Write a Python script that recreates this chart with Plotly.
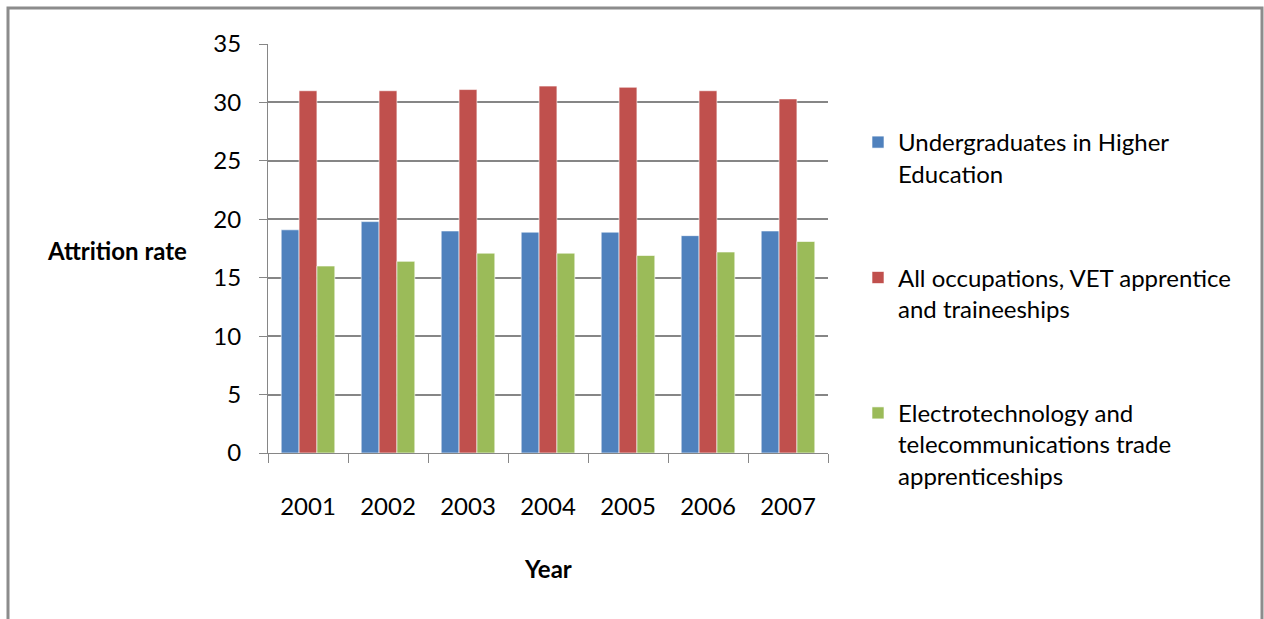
import plotly.graph_objects as go

years = ["2001", "2002", "2003", "2004", "2005", "2006", "2007"]
undergrad = [19.1, 19.8, 19.0, 18.9, 18.9, 18.6, 19.0]
all_occ = [31.0, 31.0, 31.1, 31.4, 31.3, 31.0, 30.3]
electro = [16.0, 16.4, 17.1, 17.1, 16.9, 17.2, 18.1]

names = [
    "Undergraduates in Higher<br>Education",
    "All occupations, VET apprentice<br>and traineeships",
    "Electrotechnology and<br>telecommunications trade<br>apprenticeships",
]
colors = ["#4F81BD", "#C0504D", "#9BBB59"]
series = [undergrad, all_occ, electro]

FONT = "Lato"

L, R, T, B = 268, 828, 44, 453
PW, PH = R - L, B - T
def px(x): return (x - L) / PW
def py(y): return (B - y) / PH

fig = go.Figure()
for i, (nm, col, vals) in enumerate(zip(names, colors, series)):
    fig.add_trace(go.Bar(
        x=years, y=vals, name=nm, marker_color=col,
        marker_line=dict(color="rgba(255,255,255,0.6)", width=1),
        legendgroup=f"g{i}",
    ))

fig.update_layout(
    width=1264, height=619,
    margin=dict(l=L, r=1264 - R, t=T, b=619 - B),
    paper_bgcolor="white", plot_bgcolor="white",
    barmode="group", bargap=0.33, bargroupgap=0,
    font=dict(family=FONT, size=23, color="#000000"),
    showlegend=True,
    legend=dict(
        x=px(858), y=py(120), xanchor="left", yanchor="top",
        valign="top", tracegroupgap=70,
        font=dict(family=FONT, size=24, color="#000000"),
        itemwidth=30,
    ),
    xaxis=dict(
        showline=True, linecolor="#868686", linewidth=1,
        ticks="outside", tickson="boundaries", ticklen=9, tickcolor="#868686",
        ticklabelstandoff=32,
        tickfont=dict(size=24),
        showgrid=False,
    ),
    yaxis=dict(
        range=[0, 35], dtick=5,
        showline=True, linecolor="#868686", linewidth=1,
        ticks="outside", ticklen=8, tickcolor="#868686",
        ticklabelstandoff=13,
        tickfont=dict(size=24),
        showgrid=True, gridcolor="#868686", gridwidth=1.5,
        zeroline=False,
    ),
    annotations=[
        dict(text="<b>Attrition rate</b>", x=px(117), y=py(250), xref="paper", yref="paper",
             xanchor="center", yanchor="middle",
             showarrow=False, font=dict(family=FONT, size=24)),
        dict(text="<b>Year</b>", x=px(548), y=py(568), xref="paper", yref="paper",
             xanchor="center", yanchor="middle",
             showarrow=False, font=dict(family=FONT, size=24)),
    ],
)

fig.add_shape(type="rect", xref="paper", yref="paper",
              x0=px(8), x1=px(1262), y0=py(640), y1=py(8),
              line=dict(color="#8C8C8C", width=3), layer="below")

fig.write_html("out.html")
